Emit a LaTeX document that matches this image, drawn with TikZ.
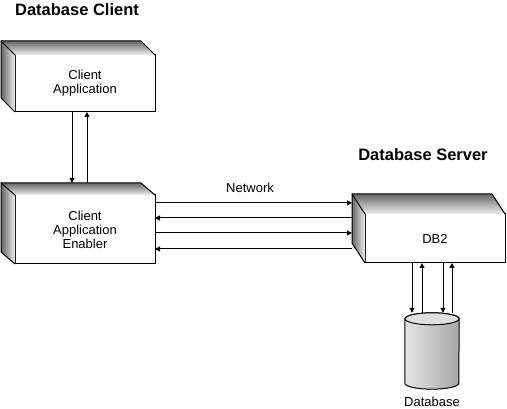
\documentclass[tikz,border=0pt]{standalone}
\usepackage{fontspec}
\setmainfont{Liberation Sans}
\usepackage{tikz}
\usetikzlibrary{arrows.meta}
\tikzset{front/.style={draw,fill=white,line width=1pt,outer sep=0pt,minimum width=140pt,align=center,font=\fontsize{13}{14}\selectfont}}
\tikzset{heading/.style={font=\fontsize{16.5}{18}\selectfont\bfseries}}
\tikzset{txt/.style={font=\fontsize{13}{14}\selectfont}}
\tikzset{link/.style={-{Triangle[length=5pt,width=5pt]},line width=1pt}}
% shaded top and left faces behind a front box
\newcommand{\boxsides}[3]{%
  \shade[top color=black!60,bottom color=black!6] (#1.north west) -- ++(-#2,#3) -- ([shift={(-#2,#3)}]#1.north east) -- (#1.north east) -- cycle;
  \shade[left color=black!60,right color=black!6] (#1.north west) -- ++(-#2,#3) -- ([shift={(-#2,#3)}]#1.south west) -- (#1.south west) -- cycle;
  \draw[line width=1pt] (#1.south west) -- ++(-#2,#3) -- ([shift={(-#2,#3)}]#1.north west) -- ([shift={(-#2,#3)}]#1.north east) -- (#1.north east);
  \draw[line width=1pt] (#1.north west) -- ++(-#2,#3);
}

\begin{document}
\begin{tikzpicture}[x=1pt,y=1pt]
    \useasboundingbox (0,0) rectangle (507,409);
    \node[heading] (clienttitle) at (77,399) {Database Client};
    \node[heading] (servertitle) at (423,254) {Database Server};
    \node[front,minimum height=57pt] (cliapp) at (85,325.5) {Client\\Application};
    \node[front,minimum height=69pt] (enabler) at (85,179.5) {Client\\Application\\Enabler};
    \node[front,minimum height=49pt] (db2) at (435,170.5) {DB2};
    \boxsides{cliapp}{14}{14}
    \boxsides{enabler}{14}{12}
    \boxsides{db2}{13}{20}
    \draw[link] ([xshift=-13pt]cliapp.south) -- ([xshift=-13pt,yshift=12pt]enabler.north);
    \draw[link] ([xshift=2pt,yshift=12pt]enabler.north) -- ([xshift=2pt]cliapp.south);
    \node[txt] (network) at (250,221) {Network};
    \draw[link] ([yshift=26.5pt]enabler.east) -- ([xshift=-13pt,yshift=35.5pt]db2.west);
    \draw[link] ([xshift=-13pt,yshift=20.5pt]db2.west) -- ([yshift=11.5pt]enabler.east);
    \draw[link] ([yshift=-3.5pt]enabler.east) -- ([xshift=-13pt,yshift=5.5pt]db2.west);
    \draw[link] ([xshift=-13pt,yshift=-10.5pt]db2.west) -- ([yshift=-19.5pt]enabler.east);
    % database cylinder
    \node[inner sep=0pt,minimum width=54pt,minimum height=76pt] (dbase) at (432,58) {};
    \shadedraw[line width=1pt,left color=black!10,middle color=white,right color=black!35] ([yshift=-6pt]dbase.north west) -- ([yshift=6pt]dbase.south west) arc[start angle=180,end angle=360,x radius=27pt,y radius=6pt] -- ([yshift=-6pt]dbase.north east) arc[start angle=0,end angle=180,x radius=27pt,y radius=6pt] -- cycle;
    \draw[line width=1pt,fill=black!12] ([yshift=-6pt]dbase.north) ellipse[x radius=27pt,y radius=6pt];
    \node[txt,anchor=base] (dblabel) at (432,2.5) {Database};
    \draw[link] ([xshift=-23pt]db2.south) -- ([xshift=-20pt]dbase.north);
    \draw[link] ([xshift=-10pt]dbase.north) -- ([xshift=-13pt]db2.south);
    \draw[link] ([xshift=8pt]db2.south) -- ([xshift=11pt]dbase.north);
    \draw[link] ([xshift=20pt]dbase.north) -- ([xshift=17pt]db2.south);
\end{tikzpicture}
\end{document}
